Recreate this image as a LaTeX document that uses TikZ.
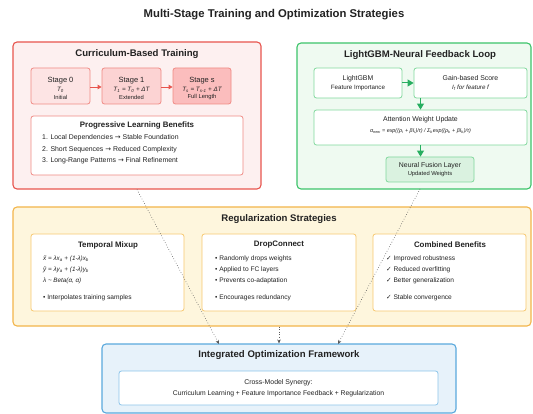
\documentclass[tikz,border=0pt]{standalone}
\usepackage{fontspec}
\setmainfont{Liberation Sans}
\newfontfamily\dv{DejaVu Sans}
\usetikzlibrary{arrows.meta,calc}
\definecolor{redline}{HTML}{E8554E}
\definecolor{redfill}{HTML}{FDF0F0}
\definecolor{redsoft}{HTML}{F08A84}
\definecolor{stA}{HTML}{FDE4E4}
\definecolor{stB}{HTML}{FCD3D3}
\definecolor{stC}{HTML}{FBBDBD}
\definecolor{greenline}{HTML}{3CC46A}
\definecolor{greenfill}{HTML}{EFFAF1}
\definecolor{greensoft}{HTML}{80D89C}
\definecolor{greendark}{HTML}{27AE60}
\definecolor{nfill}{HTML}{DAF2E0}
\definecolor{yline}{HTML}{F3B54A}
\definecolor{yfill}{HTML}{FEF6DD}
\definecolor{ysoft}{HTML}{F7C86E}
\definecolor{bline}{HTML}{5AA9DD}
\definecolor{bfill}{HTML}{E7F2FA}
\definecolor{bsoft}{HTML}{8CC4EA}
\definecolor{txt}{HTML}{222222}
\newcommand\sbs[1]{\textsubscript{#1}}
\newcommand\ar{{\dv →}}
\newcommand\ck{{\dv ✓}}
\tikzset{
  outer/.style={draw=#1, line width=1.1pt, rounded corners=4pt, inner sep=0pt},
  inner/.style={draw=#1, line width=0.8pt, rounded corners=2.5pt, fill=white, inner sep=0pt},
  ttl/.style={font=\fontsize{9.6}{11}\selectfont\bfseries, text=txt, inner sep=0pt},
  sttl/.style={font=\fontsize{7.9}{9.4}\selectfont\bfseries, text=txt, inner sep=0pt},
  body/.style={font=\fontsize{6.9}{8.2}\selectfont, text=txt, inner sep=0pt},
  bodyl/.style={body, anchor=west},
  bul/.style={bodyl, font=\fontsize{6.6}{8}\selectfont},
  tiny/.style={font=\fontsize{5.8}{6.8}\selectfont, text=txt, inner sep=0pt},
  mth/.style={font=\fontsize{6.3}{7.4}\selectfont\itshape, text=txt, inner sep=0pt},
  redarr/.style={draw=redline, line width=0.9pt, -{Triangle[length=4pt,width=4.5pt]}},
  grarr/.style={draw=greendark, line width=1pt, -{Triangle[length=6pt,width=7pt]}},
  dotarr/.style={draw=black!65, line width=0.6pt, dotted, -{Stealth[length=4pt,width=3.5pt]}}
}
\begin{document}
\begin{tikzpicture}[x=1pt,y=-1pt]
\useasboundingbox[fill=white] (0,0) rectangle (533,414);

\node[font=\fontsize{11.3}{13}\selectfont\bfseries, text=txt, inner sep=0pt] (title) at (274,15) {Multi-Stage Training and Optimization Strategies};

% ---------- Curriculum ----------
\node[outer=redline, fill=redfill, minimum width=248pt, minimum height=147pt] (red) at (137,115.5) {};
\node[ttl] (redt) at (137,54) {Curriculum-Based Training};
\node[draw=redsoft, line width=0.8pt, rounded corners=2.5pt, fill=stA, minimum width=59pt, minimum height=36pt] (s0) at (60.5,86) {};
\node[draw=redsoft, line width=0.8pt, rounded corners=2.5pt, fill=stB, minimum width=59pt, minimum height=36pt] (s1) at (131.5,86) {};
\node[draw=redsoft, line width=0.8pt, rounded corners=2.5pt, fill=stC, minimum width=58pt, minimum height=36pt] (s2) at (202,86) {};
\node[font=\fontsize{7.5}{9}\selectfont, text=txt, inner sep=0pt] (s0a) at (60.5,80.5) {Stage 0};
\node[mth] (s0b) at (60.5,89.5) {T\sbs{0}};
\node[tiny] (s0c) at (60.5,97.5) {Initial};
\node[font=\fontsize{7.5}{9}\selectfont, text=txt, inner sep=0pt] (s1a) at (131.5,80.5) {Stage 1};
\node[mth] (s1b) at (131.5,89.5) {T\sbs{1} = T\sbs{0} + ΔT};
\node[tiny] (s1c) at (131.5,97.5) {Extended};
\node[font=\fontsize{7.5}{9}\selectfont, text=txt, inner sep=0pt] (s2a) at (202,80.5) {Stage s};
\node[mth] (s2b) at (202,89.5) {T\sbs{s} = T\sbs{s-1} + ΔT};
\node[tiny] (s2c) at (202,97.5) {Full Length};
\draw[redarr] (s0.east |- 0,87) -- (s1.west |- 0,87);
\draw[redarr] (s1.east |- 0,87) -- (s2.west |- 0,87);
\node[inner=redsoft, minimum width=212pt, minimum height=59pt] (plb) at (137,145.5) {};
\node[sttl] (plbt) at (137,125.5) {Progressive Learning Benefits};
\node[bodyl] (p1) at (42,138) {1. Local Dependencies \ar{} Stable Foundation};
\node[bodyl] (p2) at (42,149.5) {2. Short Sequences \ar{} Reduced Complexity};
\node[bodyl] (p3) at (42,161) {3. Long-Range Patterns \ar{} Final Refinement};

% ---------- LightGBM ----------
\node[outer=greenline, fill=greenfill, minimum width=234pt, minimum height=146pt] (green) at (414,116) {};
\node[ttl] (greent) at (420,55) {LightGBM-Neural Feedback Loop};
\node[inner=greensoft, minimum width=88pt, minimum height=30pt] (lgb) at (358,83) {};
\node[body] (lgba) at (358,78.5) {LightGBM};
\node[tiny, font=\fontsize{6.2}{7}\selectfont] (lgbb) at (358,88) {Feature Importance};
\node[inner=greensoft, minimum width=113pt, minimum height=30pt] (gain) at (470.5,83) {};
\node[body] (gaina) at (470.5,78.5) {Gain-based Score};
\node[tiny, font=\fontsize{6.2}{7}\selectfont\itshape] (gainb) at (470.5,88) {I\sbs{f} for feature f};
\node[inner=greensoft, minimum width=213pt, minimum height=35pt] (att) at (420.5,127.5) {};
\node[body] (atta) at (420.5,120) {Attention Weight Update};
\node[mth, font=\fontsize{5.4}{6.5}\selectfont\itshape] (attb) at (420.5,131.5) {α\sbs{new} = exp((ρ\sbs{i} + βI\sbs{i})/τ) / Σ\sbs{k}exp((ρ\sbs{k} + βI\sbs{k})/τ)};
\node[draw=greensoft, line width=0.8pt, rounded corners=2.5pt, fill=nfill, minimum width=88pt, minimum height=25pt] (nfl) at (430,169.5) {};
\node[body] (nfla) at (430,166) {Neural Fusion Layer};
\node[tiny] (nflb) at (430,174.5) {Updated Weights};
\draw[grarr] (lgb.east |- 0,83) -- (gain.west |- 0,83);
\draw[grarr] (att.north |- gain.south) -- (att.north);
\draw[grarr] (att.south) -- (att.south |- nfl.north);

% ---------- Regularization ----------
\node[outer=yline, fill=yfill, minimum width=518pt, minimum height=119pt] (yel) at (272,266.5) {};
\node[ttl] (yelt) at (279,219) {Regularization Strategies};
\node[inner=ysoft, minimum width=153pt, minimum height=77pt] (mix) at (107.5,272.5) {};
\node[inner=ysoft, minimum width=154pt, minimum height=77pt] (dc) at (279,272.5) {};
\node[inner=ysoft, minimum width=153pt, minimum height=77pt] (cb) at (449.5,272.5) {};
\node[sttl] (mixt) at (108,245) {Temporal Mixup};
\node[mth, anchor=west] (m1) at (43,259) {\~{x} = λx\sbs{a} + (1-λ)x\sbs{b}};
\node[mth, anchor=west] (m2) at (43,270) {ỹ = λy\sbs{a} + (1-λ)y\sbs{b}};
\node[mth, anchor=west] (m3) at (43,281) {λ \textasciitilde{} Beta(α, α)};
\node[bul] (m4) at (43,297.5) {• Interpolates training samples};
\node[sttl] (dct) at (279,245) {DropConnect};
\node[bul] (d1) at (215,259) {• Randomly drops weights};
\node[bul] (d2) at (215,270) {• Applied to FC layers};
\node[bul] (d3) at (215,281) {• Prevents co-adaptation};
\node[bul] (d4) at (215,297.5) {• Encourages redundancy};
\node[sttl] (cbt) at (450,245) {Combined Benefits};
\node[bul] (c1) at (386,259) {\ck{} Improved robustness};
\node[bul] (c2) at (386,270) {\ck{} Reduced overfitting};
\node[bul] (c3) at (386,281) {\ck{} Better generalization};
\node[bul] (c4) at (386,297.5) {\ck{} Stable convergence};

% ---------- Integrated ----------
\node[outer=bline, fill=bfill, minimum width=354pt, minimum height=69pt] (blue) at (279,378.5) {};
\node[ttl] (bluet) at (279,355) {Integrated Optimization Framework};
\node[inner=bsoft, minimum width=319pt, minimum height=34pt] (syn) at (278.5,388) {};
\node[body] (syna) at (278.5,382.5) {Cross-Model Synergy:};
\node[body, font=\fontsize{6.8}{8}\selectfont] (synb) at (278.5,394) {Curriculum Learning + Feature Importance Feedback + Regularization};

% ---------- Dotted connectors ----------
\coordinate (gout) at (420,189);
\coordinate (bin1) at (219,344);
\coordinate (bin3) at (338,344);
\draw[dotarr] (red.south) -- (bin1);
\draw[dotarr] (blue.north |- yel.south) -- (blue.north);
\draw[dotarr] (gout) -- (bin3);
\end{tikzpicture}
\end{document}
